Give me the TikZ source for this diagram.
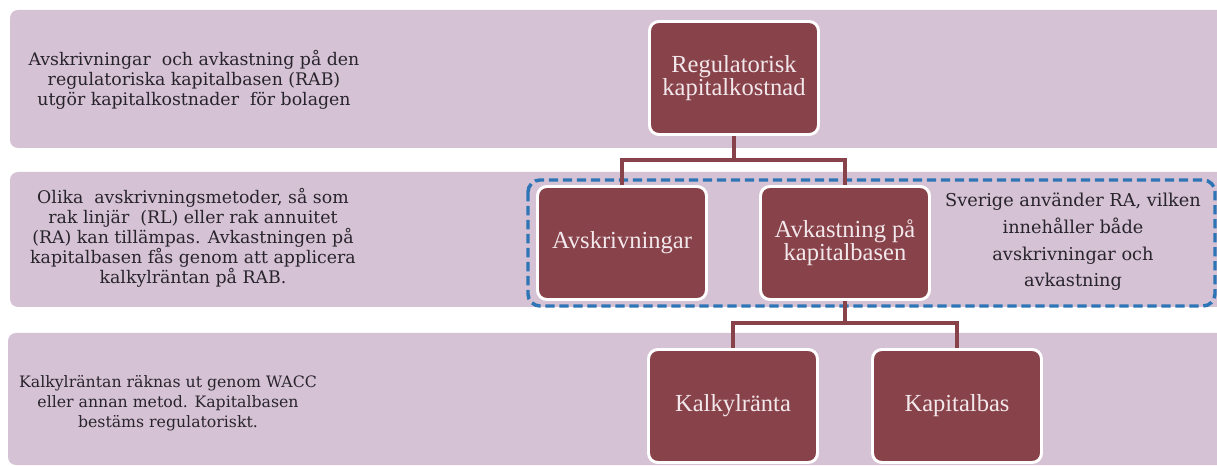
\documentclass[tikz,border=0pt]{standalone}
\usepackage{fontspec}
\setmainfont{DejaVu Serif}
\newfontfamily\boxfont{Liberation Serif}
\usetikzlibrary{calc}
\definecolor{bandc}{RGB}{214,194,213}
\definecolor{boxc}{RGB}{136,66,74}
\definecolor{dashc}{RGB}{46,117,182}
\definecolor{txtc}{RGB}{40,36,44}
\definecolor{boxtxt}{RGB}{242,232,236}
\begin{document}
\begin{tikzpicture}[x=0.75pt,y=-0.75pt,
  band/.style={fill=bandc,draw=none,rounded corners=6pt},
  tbox/.style={fill=boxc,draw=white,line width=2.2pt,rounded corners=7pt,
    minimum width=126.75pt,minimum height=84.75pt,inner sep=0pt,align=center,
    text=boxtxt,font=\boxfont\fontsize{18.4}{17.5}\selectfont},
  ltext/.style={align=center,text=txtc,inner sep=0pt,font=\fontsize{13}{15}\selectfont},
  rtext/.style={align=center,text=txtc,inner sep=0pt,font=\fontsize{13.3}{20}\selectfont},
  conn/.style={draw=boxc,line width=2.8pt},
  region/.style={draw=dashc,line width=2.6pt,dash pattern=on 7pt off 3.5pt,rounded corners=9pt}]
\clip (0,0) rectangle (1217,466);
\fill[white] (0,0) rectangle (1217,466);
% bands
\path[band] (10,10) rectangle (1232,148);
\path[band] (10,172) rectangle (1232,307);
\path[band] (8,333) rectangle (1232,465);
% left texts
\node[ltext] (t1) at (194,80) {Avskrivningar\ \ och avkastning på den\\regulatoriska kapitalbasen (RAB)\\utgör kapitalkostnader\ \ för bolagen};
\node[ltext] (t2) at (193,238) {Olika\ \ avskrivningsmetoder, så som\\rak linjär\ \ (RL) eller rak annuitet\\(RA) kan tillämpas. Avkastningen på\\kapitalbasen fås genom att applicera\\kalkylräntan på RAB.};
\node[ltext,font=\fontsize{11.8}{15}\selectfont] (t3) at (168,403) {Kalkylräntan räknas ut genom WACC\\eller annan metod. Kapitalbasen\\bestäms regulatoriskt.};
% dashed region
\draw[region] (528,180) rectangle (1215,306);
\node[rtext] (t4) at (1073,242) {Sverige använder RA, vilken\\innehåller både\\avskrivningar och\\avkastning};
% boxes
\node[tbox] (top) at (734,78) {Regulatorisk\\kapitalkostnad};
\node[tbox] (avskr) at (622,243) {Avskrivningar};
\node[tbox] (avkast) at (845,243) {Avkastning på\\kapitalbasen};
\node[tbox] (kalk) at (733,406) {Kalkylränta};
\node[tbox] (kapb) at (957,406) {Kapitalbas};
% connectors
\coordinate (j1) at (734,160);
\coordinate (j2) at (845,323);
\draw[conn] (top.south) -- (j1) -| (avskr.north);
\draw[conn] (j1) -| (avkast.north);
\draw[conn] (avkast.south) -- (j2) -| (kalk.north);
\draw[conn] (j2) -| (kapb.north);
\end{tikzpicture}
\end{document}
